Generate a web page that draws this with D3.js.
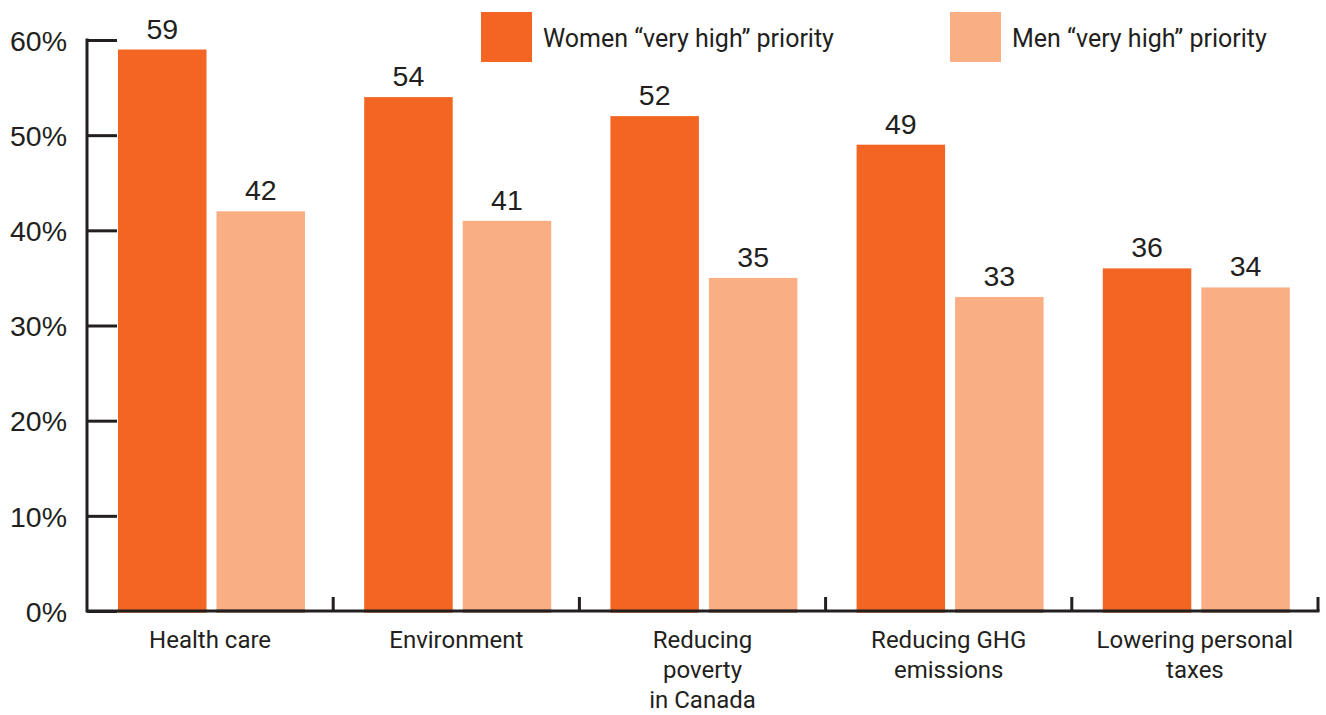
<!DOCTYPE html>
<html>
<head>
<meta charset="utf-8">
<script src="https://cdn.jsdelivr.net/npm/d3@7"></script>
<style>
  html, body { margin: 0; padding: 0; background: #fff; }
  svg { display: block; }
</style>
</head>
<body>
<svg id="chart" width="1326" height="715"></svg>
<script>
// Priority issues by gender: share rating each issue a "very high" priority
const categories = [
  ["Health care"],
  ["Environment"],
  ["Reducing", "poverty", "in Canada"],
  ["Reducing GHG", "emissions"],
  ["Lowering personal", "taxes"]
];
const seriesNames = ["Women \u201cvery high\u201d priority", "Men \u201cvery high\u201d priority"];
const women = [59, 54, 52, 49, 36];
const men = [42, 41, 35, 33, 34];
const yTicks = [0, 10, 20, 30, 40, 50, 60];

const colors = ["#F26522", "#F9AE83"];
const ink = "#231F20";
const numFont = "'Liberation Sans', Arial, sans-serif";
const textFont = "Roboto, 'Liberation Sans', sans-serif";

const svg = d3.select("#chart");
const plotLeft = 87, plotRight = 1318, plotTop = 40, plotBottom = 611;

const x = d3.scaleBand()
  .domain(d3.range(categories.length))
  .range([plotLeft, plotRight])
  .paddingInner(0)
  .paddingOuter(0);

const inner = d3.scaleBand()
  .domain([0, 1])
  .range([31, 218])
  .paddingInner(0.1015);

const y = d3.scaleLinear().domain([0, 60]).range([plotBottom, plotTop]);

const data = categories.map((c, i) => ({ i, vals: [women[i], men[i]] }));

// Bars
const groups = svg.append("g").selectAll("g")
  .data(data).join("g")
  .attr("transform", d => `translate(${x(d.i)},0)`);

groups.selectAll("rect")
  .data(d => d.vals.map((v, s) => ({ v, s })))
  .join("rect")
  .attr("x", d => inner(d.s))
  .attr("width", inner.bandwidth())
  .attr("y", d => y(d.v))
  .attr("height", d => y(0) - y(d.v) + 1.5)
  .attr("fill", d => colors[d.s]);

// Value labels
groups.selectAll("text.val")
  .data(d => d.vals.map((v, s) => ({ v, s })))
  .join("text")
  .attr("class", "val")
  .attr("x", d => inner(d.s) + inner.bandwidth() / 2)
  .attr("y", d => y(d.v) - 11)
  .attr("text-anchor", "middle")
  .attr("font-family", numFont)
  .attr("font-size", 28.5)
  .attr("fill", ink)
  .text(d => d.v);

// Y axis
const yAxis = d3.axisRight(y)
  .tickValues(yTicks)
  .tickSize(30)
  .tickFormat(d => d + "%");

const yg = svg.append("g")
  .attr("transform", `translate(${plotLeft},0)`)
  .call(yAxis);
yg.select(".domain").remove();
yg.selectAll(".tick line").attr("stroke", ink).attr("stroke-width", 3);
yg.selectAll(".tick text")
  .attr("x", -20)
  .attr("dy", "0.36em")
  .attr("text-anchor", "end")
  .attr("font-family", numFont)
  .attr("font-size", 28.5)
  .attr("fill", ink);
svg.append("line")
  .attr("x1", plotLeft).attr("x2", plotLeft)
  .attr("y1", y(60) - 1.5).attr("y2", y(0) + 1.5)
  .attr("stroke", ink).attr("stroke-width", 3);

// X axis baseline with band separators
svg.append("line")
  .attr("x1", plotLeft).attr("x2", plotRight + 1.5)
  .attr("y1", y(0)).attr("y2", y(0))
  .attr("stroke", ink).attr("stroke-width", 3);

const seps = d3.range(1, categories.length + 1).map(i => x(i - 1) + x.bandwidth());
svg.append("g").selectAll("line")
  .data(seps).join("line")
  .attr("x1", d => d).attr("x2", d => d)
  .attr("y1", y(0)).attr("y2", y(0) - 14)
  .attr("stroke", ink).attr("stroke-width", 3);

// Women bars sit over the baseline; light bars show a darker edge there
groups.append("rect")
  .attr("x", inner(0))
  .attr("width", inner.bandwidth())
  .attr("y", y(0) - 1.5)
  .attr("height", 3)
  .attr("fill", colors[0]);
groups.append("rect")
  .attr("x", inner(1))
  .attr("width", inner.bandwidth())
  .attr("y", y(0) - 1.5)
  .attr("height", 3)
  .attr("fill", "#7a5a4a")
  .attr("opacity", 0.85);

// Category labels
const xl = svg.append("g").selectAll("text")
  .data(categories.map((c, i) => ({ c, i })))
  .join("text")
  .attr("x", d => x(d.i) + x.bandwidth() / 2)
  .attr("y", 648)
  .attr("text-anchor", "middle")
  .attr("font-family", textFont)
  .attr("font-size", 24)
  .attr("fill", ink);
xl.selectAll("tspan")
  .data(d => d.c.map(line => ({ line, cx: x(d.i) + x.bandwidth() / 2 })))
  .join("tspan")
  .attr("x", d => d.cx)
  .attr("dy", (d, k) => k === 0 ? 0 : 30)
  .text(d => d.line);

// Legend
const legendX = [481, 950];
const legend = svg.append("g").selectAll("g")
  .data(seriesNames.map((n, s) => ({ n, s })))
  .join("g")
  .attr("transform", d => `translate(${legendX[d.s]},12)`);
legend.append("rect")
  .attr("width", 51).attr("height", 50)
  .attr("fill", d => colors[d.s]);
legend.append("text")
  .attr("x", 62).attr("y", 35)
  .attr("font-family", textFont)
  .attr("font-size", 25)
  .attr("fill", ink)
  .text(d => d.n);
</script>
</body>
</html>
